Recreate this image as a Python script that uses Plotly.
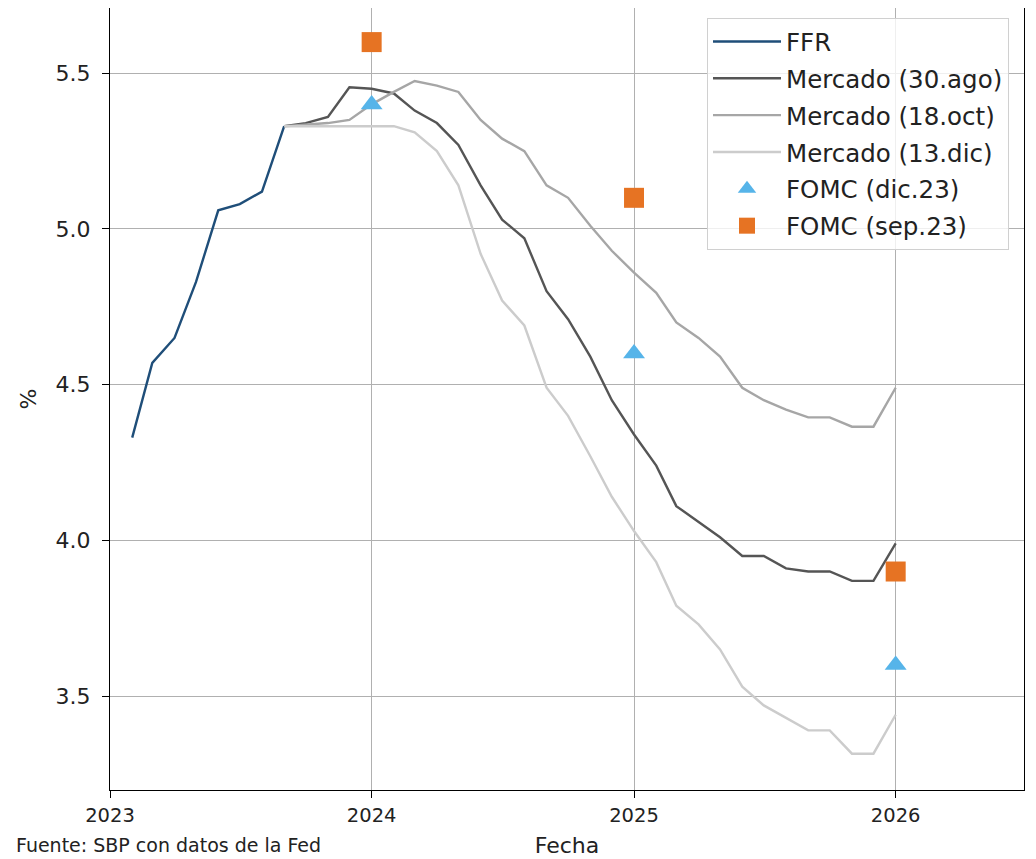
import plotly.graph_objects as go

# ---- data ----
ffr_dates = ["2023-02-01", "2023-03-01", "2023-04-01", "2023-05-01",
             "2023-06-01", "2023-07-01", "2023-08-01", "2023-09-01"]
ffr_values = [4.33, 4.57, 4.65, 4.83, 5.06, 5.08, 5.12, 5.33]

market_dates = [
    "2023-09-01", "2023-10-01", "2023-11-01", "2023-12-01",
    "2024-01-01", "2024-02-01", "2024-03-01", "2024-04-01", "2024-05-01", "2024-06-01",
    "2024-07-01", "2024-08-01", "2024-09-01", "2024-10-01", "2024-11-01", "2024-12-01",
    "2025-01-01", "2025-02-01", "2025-03-01", "2025-04-01", "2025-05-01", "2025-06-01",
    "2025-07-01", "2025-08-01", "2025-09-01", "2025-10-01", "2025-11-01", "2025-12-01",
    "2026-01-01",
]
mercado_30ago = [5.33, 5.34, 5.36, 5.455, 5.45, 5.435, 5.38, 5.34, 5.27, 5.14,
                 5.03, 4.97, 4.80, 4.71, 4.59, 4.45, 4.34, 4.24, 4.11, 4.06,
                 4.01, 3.95, 3.95, 3.91, 3.90, 3.90, 3.87, 3.87, 3.99]
mercado_18oct = [5.33, 5.335, 5.34, 5.35, 5.40, 5.44, 5.475, 5.46, 5.44, 5.35,
                 5.29, 5.25, 5.14, 5.10, 5.01, 4.93, 4.86, 4.795, 4.70, 4.65,
                 4.59, 4.49, 4.45, 4.42, 4.395, 4.395, 4.365, 4.365, 4.49]
mercado_13dic = [5.33, 5.33, 5.33, 5.33, 5.33, 5.33, 5.31, 5.25, 5.14, 4.92,
                 4.77, 4.69, 4.49, 4.40, 4.27, 4.14, 4.03, 3.93, 3.79, 3.73,
                 3.65, 3.53, 3.47, 3.43, 3.39, 3.39, 3.315, 3.315, 3.44]

fomc_dates = ["2024-01-01", "2025-01-01", "2026-01-01"]
fomc_dic23 = [5.4, 4.6, 3.6]
fomc_sep23 = [5.6, 5.1, 3.9]

x_ticks = ["2023-01-01", "2024-01-01", "2025-01-01", "2026-01-01"]
x_tick_labels = ["2023", "2024", "2025", "2026"]
y_ticks = [3.5, 4.0, 4.5, 5.0, 5.5]
y_tick_labels = ["3.5", "4.0", "4.5", "5.0", "5.5"]

FONT = "DejaVu Sans"
TXT = "#222222"

fig = go.Figure()
lw = 2.4
fig.add_trace(go.Scatter(x=ffr_dates, y=ffr_values, mode="lines", name="FFR",
                         line=dict(color="#1F4E79", width=lw), legendgroup="a"))
fig.add_trace(go.Scatter(x=market_dates, y=mercado_30ago, mode="lines", name="Mercado (30.ago)",
                         line=dict(color="#555555", width=lw), legendgroup="b"))
fig.add_trace(go.Scatter(x=market_dates, y=mercado_18oct, mode="lines", name="Mercado (18.oct)",
                         line=dict(color="#A6A6A6", width=lw), legendgroup="c"))
fig.add_trace(go.Scatter(x=market_dates, y=mercado_13dic, mode="lines", name="Mercado (13.dic)",
                         line=dict(color="#CCCCCC", width=lw), legendgroup="d"))
fig.add_trace(go.Scatter(x=fomc_dates, y=fomc_dic23, mode="markers", name="FOMC (dic.23)",
                         marker=dict(symbol="triangle-up", size=19, color="#56B4E9"), legendgroup="e"))
fig.add_trace(go.Scatter(x=fomc_dates, y=fomc_sep23, mode="markers", name="FOMC (sep.23)",
                         marker=dict(symbol="square", size=20, color="#E67323"), legendgroup="f"))

axis_common = dict(showline=True, linecolor="black", linewidth=1.2, mirror=True,
                   showgrid=True, gridcolor="#B0B0B0", gridwidth=1,
                   ticks="outside", ticklen=7, tickwidth=1.2, tickcolor="black",
                   zeroline=False)

fig.update_xaxes(**axis_common, type="date",
                 range=["2023-01-01", "2026-06-29"],
                 tickvals=x_ticks, ticktext=x_tick_labels,
                 tickfont=dict(family=FONT, size=19.5, color=TXT),
                 title=dict(text="Fecha", font=dict(family=FONT, size=22, color=TXT), standoff=12))
fig.update_yaxes(**axis_common, range=[3.1984, 5.7095],
                 tickvals=y_ticks, ticktext=y_tick_labels,
                 tickfont=dict(family=FONT, size=22, color=TXT), ticklabelstandoff=7,
                 title=dict(text="%", font=dict(family=FONT, size=22, color=TXT), standoff=12))

fig.add_annotation(text="Fuente: SBP con datos de la Fed", xref="paper", yref="paper",
                   x=(14 - 110) / 914, y=(790 - 858) / 782, xanchor="left", yanchor="bottom",
                   showarrow=False, font=dict(family=FONT, size=19, color=TXT))

fig.update_layout(
    width=1028, height=851,
    margin=dict(l=102, r=12, t=0, b=69, autoexpand=False),
    paper_bgcolor="white", plot_bgcolor="white",
    font=dict(family=FONT, color=TXT),
    showlegend=True,
    legend=dict(x=(707 - 110) / 914, y=(790 - 18) / 782, xanchor="left", yanchor="top",
                bgcolor="rgba(255,255,255,0.8)", bordercolor="#D0D0D0", borderwidth=1,
                font=dict(family=FONT, size=24.5, color=TXT),
                tracegroupgap=2, itemwidth=68),
)

fig.write_html("out.html")
